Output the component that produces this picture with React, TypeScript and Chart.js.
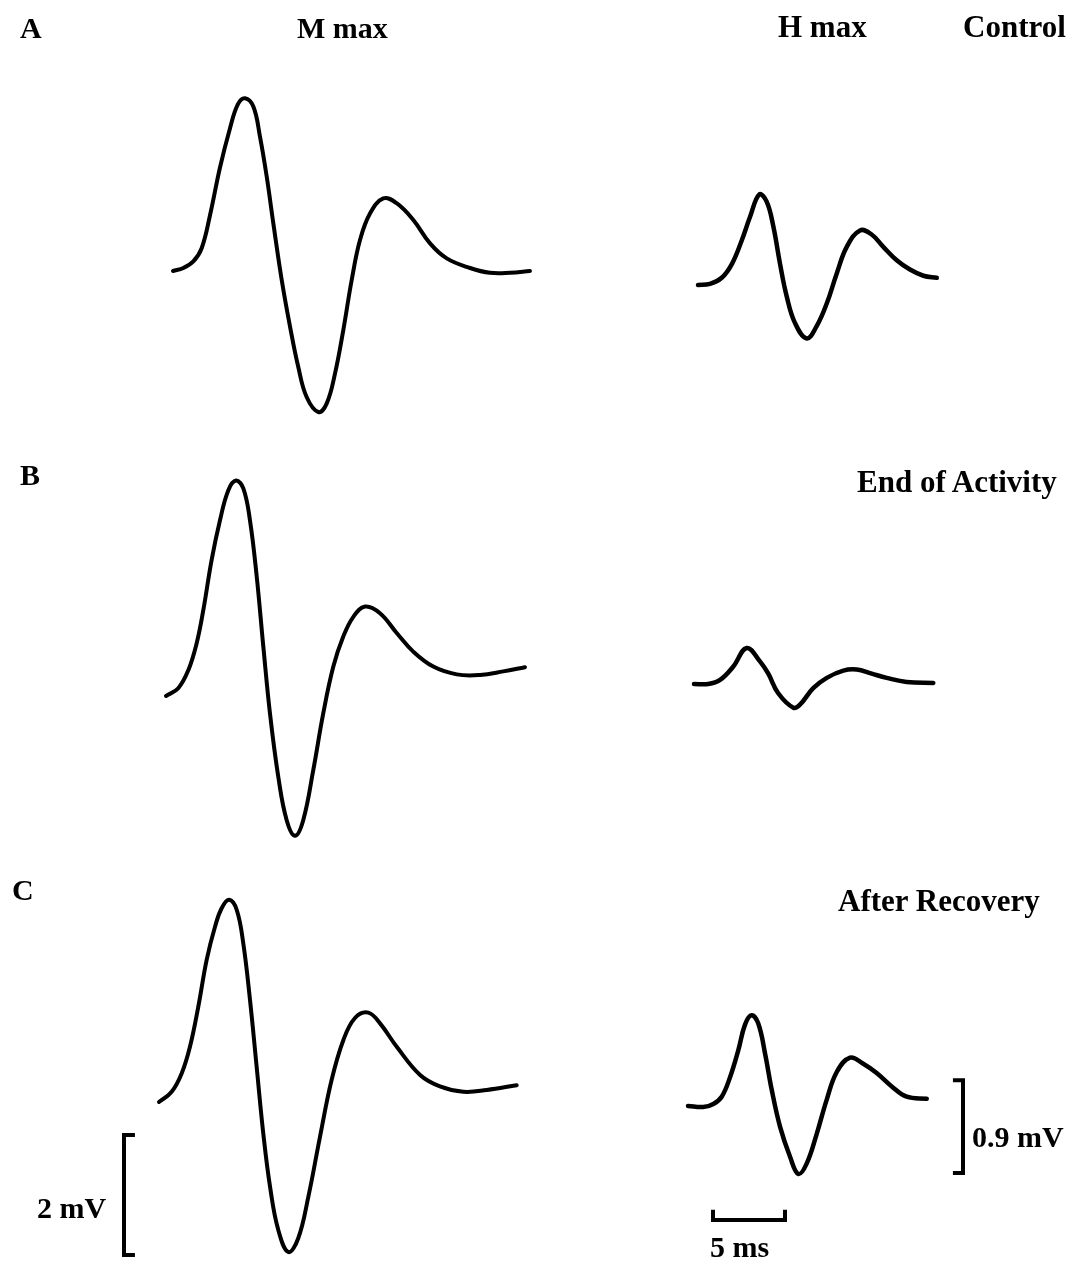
import React, { useEffect, useRef } from "react";
import { Chart, registerables } from "chart.js";

Chart.register(...registerables);

// ---------------- DATA (time in ms from trace onset, voltage in mV from onset level) ----------------
const mControlT = [0, 0.72, 1.41, 1.99, 2.57, 3.26, 3.96, 4.51, 5.0, 5.58, 6.04, 6.51, 6.97, 7.55, 8.13, 8.7, 9.28, 10.09, 10.67, 11.25, 11.83, 12.41, 12.99, 13.68, 14.6, 15.53, 16.69, 17.85, 19.01, 20.63, 22.01, 23.4, 24.79];
const mControlV = [0, 0.05, 0.16, 0.38, 0.93, 1.72, 2.38, 2.78, 2.88, 2.74, 2.24, 1.57, 0.79, -0.15, -0.93, -1.6, -2.1, -2.35, -2.21, -1.71, -0.98, -0.15, 0.52, 0.96, 1.21, 1.13, 0.85, 0.46, 0.21, 0.05, -0.03, -0.03, 0];

const hControlT = [0, 0.83, 1.65, 2.34, 3.03, 3.61, 4.26, 4.77, 5.23, 5.69, 6.16, 6.74, 7.55, 8.24, 8.94, 9.63, 10.33, 11.25, 12.06, 12.87, 13.8, 14.72, 15.65, 16.58];
const hControlV = [0, 0.01, 0.07, 0.2, 0.43, 0.66, 0.88, 0.81, 0.57, 0.21, -0.11, -0.37, -0.52, -0.4, -0.18, 0.11, 0.37, 0.53, 0.49, 0.37, 0.24, 0.15, 0.09, 0.07];

const mEndT = [0, 0.85, 1.55, 2.13, 2.59, 3.17, 3.75, 4.33, 4.86, 5.37, 5.83, 6.3, 6.76, 7.22, 7.8, 8.38, 8.96, 9.53, 10.23, 10.92, 11.62, 12.31, 13.01, 13.82, 14.86, 16.02, 17.17, 18.56, 20.19, 21.81, 23.42, 24.93];
const mEndV = [0, 0.13, 0.43, 0.88, 1.43, 2.27, 2.93, 3.43, 3.59, 3.46, 2.93, 1.99, 0.82, -0.29, -1.35, -2.07, -2.33, -2.07, -1.23, -0.29, 0.49, 0.99, 1.32, 1.49, 1.38, 1.05, 0.74, 0.49, 0.36, 0.35, 0.41, 0.48];

const hEndT = [0, 0.99, 1.81, 2.73, 3.66, 4.58, 5.16, 5.85, 6.9, 7.36, 8.28, 9.22, 10.37, 11.3, 12.34, 13.38, 14.77, 16.62];
const hEndV = [0, 0, 0.04, 0.17, 0.35, 0.22, 0.1, -0.09, -0.23, -0.2, -0.04, 0.06, 0.13, 0.14, 0.1, 0.06, 0.02, 0.01];

const mRecoveryT = [0, 0.88, 1.58, 2.15, 2.73, 3.31, 3.89, 4.35, 4.88, 5.4, 5.85, 6.32, 6.78, 7.24, 7.71, 8.28, 8.98, 9.67, 10.37, 11.18, 11.99, 12.8, 13.61, 14.53, 15.35, 16.51, 18.13, 19.51, 21.13, 22.76, 24.84];
const mRecoveryV = [0, 0.17, 0.48, 0.92, 1.59, 2.37, 2.92, 3.23, 3.37, 3.2, 2.65, 1.7, 0.59, -0.52, -1.41, -2.13, -2.5, -2.27, -1.58, -0.58, 0.37, 1.03, 1.4, 1.49, 1.31, 0.92, 0.45, 0.26, 0.17, 0.2, 0.28];

const hRecoveryT = [0, 1.06, 1.76, 2.34, 2.92, 3.49, 3.96, 4.42, 4.88, 5.35, 5.81, 6.39, 7.08, 7.66, 8.24, 8.94, 9.63, 10.33, 11.25, 12.17, 13.1, 14.15, 15.19, 16.58];
const hRecoveryV = [0, -0.01, 0.02, 0.09, 0.28, 0.54, 0.79, 0.88, 0.8, 0.51, 0.16, -0.2, -0.49, -0.66, -0.56, -0.27, 0.06, 0.33, 0.47, 0.41, 0.32, 0.19, 0.09, 0.07];

// calibration bars (values)
const mCalibMv = 2;
const hCalibMv = 0.9;
const timeCalibMs = 5;

// texts
const panelLetters = ["A", "B", "C"];
const columnTitles = ["M max", "H max"];
const conditionLabels = ["Control", "End of Activity", "After Recovery"];
const calibLabels = ["2 mV", "0.9 mV", "5 ms"];

// ---------------- LAYOUT ----------------
const W = 1073;
const HGT = 1266;
const PX_PER_MS = 14.4;
const M_PX_PER_MV = 60;
const H_PX_PER_MV = 103;

type Trace = { id: string; t: number[]; v: number[]; x0: number; y0: number; pxPerMv: number; width: number };

const traces: Trace[] = [
  { id: "mA", t: mControlT, v: mControlV, x0: 173, y0: 271, pxPerMv: M_PX_PER_MV, width: 4 },
  { id: "hA", t: hControlT, v: hControlV, x0: 698, y0: 285, pxPerMv: H_PX_PER_MV, width: 4.5 },
  { id: "mB", t: mEndT, v: mEndV, x0: 166, y0: 696, pxPerMv: M_PX_PER_MV, width: 4 },
  { id: "hB", t: hEndT, v: hEndV, x0: 694, y0: 684, pxPerMv: H_PX_PER_MV, width: 4.5 },
  { id: "mC", t: mRecoveryT, v: mRecoveryV, x0: 159, y0: 1102, pxPerMv: M_PX_PER_MV, width: 4 },
  { id: "hC", t: hRecoveryT, v: hRecoveryV, x0: 688, y0: 1106, pxPerMv: H_PX_PER_MV, width: 4.5 },
];

// calibration bar anchors (px) and tick lengths (in ms / mV)
const mBar = { x0: 124, y0: 1255, tickMs: 0.76 };
const hBar = { x0: 963, y0: 1173, tickMs: -0.7 };
const tBar = { x0: 713, y0: 1220, tickMv: 0.1 };

type Label = { text: string; left: number; baseline: number; size: number };
const labels: Label[] = [
  { text: panelLetters[0], left: 20, baseline: 38, size: 30 },
  { text: columnTitles[0], left: 297, baseline: 38, size: 30 },
  { text: columnTitles[1], left: 778, baseline: 37, size: 31 },
  { text: conditionLabels[0], left: 963, baseline: 37, size: 31 },
  { text: panelLetters[1], left: 20, baseline: 485, size: 30 },
  { text: conditionLabels[1], left: 857, baseline: 492, size: 31 },
  { text: panelLetters[2], left: 12, baseline: 900, size: 30 },
  { text: conditionLabels[2], left: 838, baseline: 911, size: 31 },
  { text: calibLabels[0], left: 37, baseline: 1218, size: 30 },
  { text: calibLabels[1], left: 972, baseline: 1147, size: 30 },
  { text: calibLabels[2], left: 710, baseline: 1257, size: 30 },
];

function xScale(x0: number) {
  return { type: "linear" as const, display: false, min: -x0 / PX_PER_MS, max: (W - x0) / PX_PER_MS };
}
function yScale(y0: number, pxPerMv: number) {
  return { type: "linear" as const, display: false, min: (y0 - HGT) / pxPerMv, max: y0 / pxPerMv };
}

export default function App() {
  const canvasRef = useRef<HTMLCanvasElement | null>(null);

  useEffect(() => {
    if (!canvasRef.current) return;
    const scales: any = {};
    const datasets: any[] = [];

    traces.forEach((tr) => {
      scales["x_" + tr.id] = xScale(tr.x0);
      scales["y_" + tr.id] = yScale(tr.y0, tr.pxPerMv);
      datasets.push({
        label: tr.id,
        data: tr.t.map((t, i) => ({ x: t, y: tr.v[i] })),
        xAxisID: "x_" + tr.id,
        yAxisID: "y_" + tr.id,
        showLine: true,
        borderColor: "#000",
        borderWidth: tr.width,
        pointRadius: 0,
        tension: 0.4,
        borderCapStyle: "round",
        borderJoinStyle: "round",
        fill: false,
      });
    });

    // calibration bars
    scales.x_mBar = xScale(mBar.x0);
    scales.y_mBar = yScale(mBar.y0, M_PX_PER_MV);
    scales.x_hBar = xScale(hBar.x0);
    scales.y_hBar = yScale(hBar.y0, H_PX_PER_MV);
    scales.x_tBar = xScale(tBar.x0);
    scales.y_tBar = yScale(tBar.y0, H_PX_PER_MV);

    const barStyle = {
      showLine: true,
      borderColor: "#000",
      borderWidth: 4,
      pointRadius: 0,
      tension: 0,
      borderCapStyle: "butt",
      borderJoinStyle: "miter",
      fill: false,
    };
    datasets.push({
      ...barStyle,
      label: "2 mV",
      xAxisID: "x_mBar",
      yAxisID: "y_mBar",
      data: [
        { x: mBar.tickMs, y: mCalibMv },
        { x: 0, y: mCalibMv },
        { x: 0, y: 0 },
        { x: mBar.tickMs, y: 0 },
      ],
    });
    datasets.push({
      ...barStyle,
      label: "0.9 mV",
      xAxisID: "x_hBar",
      yAxisID: "y_hBar",
      data: [
        { x: hBar.tickMs, y: hCalibMv },
        { x: 0, y: hCalibMv },
        { x: 0, y: 0 },
        { x: hBar.tickMs, y: 0 },
      ],
    });
    datasets.push({
      ...barStyle,
      label: "5 ms",
      xAxisID: "x_tBar",
      yAxisID: "y_tBar",
      data: [
        { x: 0, y: tBar.tickMv },
        { x: 0, y: 0 },
        { x: timeCalibMs, y: 0 },
        { x: timeCalibMs, y: tBar.tickMv },
      ],
    });

    const chart = new Chart(canvasRef.current, {
      type: "scatter",
      data: { datasets },
      options: {
        animation: false,
        responsive: false,
        maintainAspectRatio: false,
        devicePixelRatio: 1,
        layout: { padding: 0 },
        plugins: { legend: { display: false }, tooltip: { enabled: false } },
        events: [],
        scales,
      } as any,
    });
    return () => chart.destroy();
  }, []);

  return (
    <div style={{ position: "absolute", left: 0, top: 0, width: W, height: HGT, background: "#fff", overflow: "hidden" }}>
      <canvas ref={canvasRef} width={W} height={HGT} style={{ position: "absolute", left: 0, top: 0, width: W, height: HGT }} />
      {labels.map((l, i) => (
        <div
          key={i}
          style={{
            position: "absolute",
            left: l.left,
            top: l.baseline - Math.round(l.size * 0.837),
            fontFamily: "'Liberation Serif', 'Times New Roman', serif",
            fontWeight: "bold",
            fontSize: l.size,
            lineHeight: 1,
            whiteSpace: "nowrap",
            color: "#000",
          }}
        >
          {l.text}
        </div>
      ))}
    </div>
  );
}
